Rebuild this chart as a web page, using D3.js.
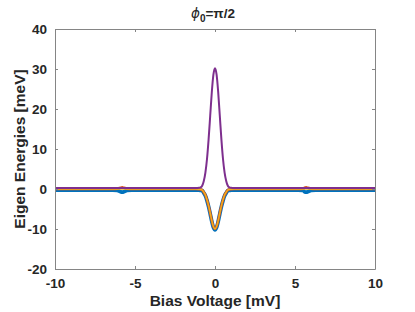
<!DOCTYPE html>
<html>
<head>
<meta charset="utf-8">
<script src="https://cdn.jsdelivr.net/npm/d3@7"></script>
<style>
  body { margin: 0; background: #fff; }
  text { font-family: "Liberation Sans", Arial, sans-serif; font-weight: bold; fill: #262626; }
</style>
</head>
<body>
<div id="chart"></div>
<script>
// shared bias voltage samples (mV)
var bias = [-10, -6.4, -6.1, -5.9, -5.8, -5.7, -5.5, -5.2, -1.2, -1.0, -0.9, -0.8, -0.7, -0.6, -0.5, -0.4, -0.3, -0.2, -0.1,
            0, 0.1, 0.2, 0.3, 0.4, 0.5, 0.6, 0.7, 0.8, 0.9, 1.0, 1.2, 5.2, 5.5, 5.6, 5.7, 5.8, 6.0, 6.3, 10];

// eigen energies (meV)
var e1 = [-0.25, -0.25, -0.35, -0.7, -0.8, -0.7, -0.35, -0.25, -0.25, -0.3, -0.35, -0.4, -1.0, -1.7, -2.9, -4.4, -6.2, -8.1, -9.6,
          -10.2, -9.6, -8.1, -6.2, -4.4, -2.9, -1.7, -1.0, -0.4, -0.35, -0.3, -0.25, -0.25, -0.35, -0.7, -0.8, -0.7, -0.35, -0.25, -0.25];
var e2 = [0, 0, 0.1, 0.3, 0.4, 0.3, 0.1, 0, 0, -0.05, -0.1, -0.25, -0.8, -1.5, -2.7, -4.2, -6.0, -7.9, -9.4,
          -10.0, -9.4, -7.9, -6.0, -4.2, -2.7, -1.5, -0.8, -0.25, -0.1, -0.05, 0, 0, 0.1, 0.3, 0.4, 0.3, 0.1, 0, 0];
var e3 = [0, 0, 0, 0, 0, 0, 0, 0, 0, -0.05, -0.1, -0.25, -0.8, -1.5, -2.7, -4.2, -6.0, -7.9, -9.4,
          -10.0, -9.4, -7.9, -6.0, -4.2, -2.7, -1.5, -0.8, -0.25, -0.1, -0.05, 0, 0, 0, 0, 0, 0, 0, 0, 0];
var e4 = [0.25, 0.25, 0.25, 0.25, 0.25, 0.25, 0.25, 0.25, 0.25, 0.3, 0.4, 0.8, 2.0, 4.1, 7.5, 12.4, 18.3, 24.2, 28.6,
          30.2, 28.6, 24.2, 18.3, 12.4, 7.5, 4.1, 2.0, 0.8, 0.4, 0.3, 0.25, 0.25, 0.25, 0.25, 0.25, 0.25, 0.25, 0.25, 0.25];

var seriesColors = ["#0072BD", "#D95319", "#EDB120", "#7E2F8E"];
var seriesWidths = [3.8, 2.6, 1.4, 2];
var xTicks = [-10, -5, 0, 5, 10];
var yTicks = [-20, -10, 0, 10, 20, 30, 40];

var W = 415, H = 312;
var m = {left: 55, right: 40, top: 29, bottom: 43};

var svg = d3.select("#chart").append("svg").attr("width", W).attr("height", H);

var x = d3.scaleLinear().domain([-10, 10]).range([m.left, W - m.right]);
var y = d3.scaleLinear().domain([-20, 40]).range([H - m.bottom, m.top]);

var plot = svg.append("g");
svg.append("clipPath").attr("id", "clip").append("rect")
    .attr("x", x(-10)).attr("y", y(40)).attr("width", x(10) - x(-10)).attr("height", y(-20) - y(40));

var line = d3.line().x(function(d) { return x(d[0]); }).y(function(d) { return y(d[1]); }).curve(d3.curveMonotoneX);

[e1, e2, e3, e4].forEach(function(s, i) {
    plot.append("path")
        .datum(bias.map(function(b, j) { return [b, s[j]]; }))
        .attr("clip-path", "url(#clip)")
        .attr("fill", "none")
        .attr("stroke", seriesColors[i])
        .attr("stroke-width", seriesWidths[i])
        .attr("stroke-linejoin", "round")
        .attr("d", line);
});

// axes, matlab style with box and inward ticks
var axCol = "#858585";
var fmt = function(d) { return String(d); };   // plain hyphen minus like matlab
function styleAxis(g) {
    g.select(".domain").attr("stroke", axCol);
    g.selectAll(".tick line").attr("stroke", axCol);
    g.selectAll(".tick text").attr("font-size", 13.5).attr("font-family", "Liberation Sans, Arial, sans-serif")
        .attr("font-weight", "bold").attr("fill", "#262626");
}
svg.append("g").attr("transform", "translate(0," + y(-20) + ")")
    .call(d3.axisBottom(x).tickValues(xTicks).tickFormat(fmt).tickSizeInner(-3).tickSizeOuter(0).tickPadding(9))
    .call(styleAxis);
svg.append("g").attr("transform", "translate(0," + y(40) + ")")
    .call(d3.axisTop(x).tickValues(xTicks).tickSizeInner(-3).tickSizeOuter(0).tickFormat(""))
    .call(styleAxis);
svg.append("g").attr("transform", "translate(" + x(-10) + ",0)")
    .call(d3.axisLeft(y).tickValues(yTicks).tickFormat(fmt).tickSizeInner(-3).tickSizeOuter(0).tickPadding(8))
    .call(styleAxis);
svg.append("g").attr("transform", "translate(" + x(10) + ",0)")
    .call(d3.axisRight(y).tickValues(yTicks).tickSizeInner(-3).tickSizeOuter(0).tickFormat(""))
    .call(styleAxis);

// labels
svg.append("text").attr("x", (x(-10) + x(10)) / 2).attr("y", 306).attr("text-anchor", "middle")
    .attr("font-size", 15.5).text("Bias Voltage [mV]");
svg.append("text").attr("transform", "translate(25," + ((y(-20) + y(40)) / 2) + ") rotate(-90)")
    .attr("text-anchor", "middle").attr("font-size", 15.5).text("Eigen Energies [meV]");

var title = svg.append("text").attr("x", (x(-10) + x(10)) / 2 - 2).attr("y", 18).attr("text-anchor", "middle").attr("font-size", 13.5);
title.append("tspan").attr("font-style", "italic").attr("font-family", "DejaVu Sans").attr("font-weight", "normal").text("ϕ");
title.append("tspan").attr("dy", 4).attr("font-size", 10).text("0");
title.append("tspan").attr("dy", -4).text("=π/2");
</script>
</body>
</html>
